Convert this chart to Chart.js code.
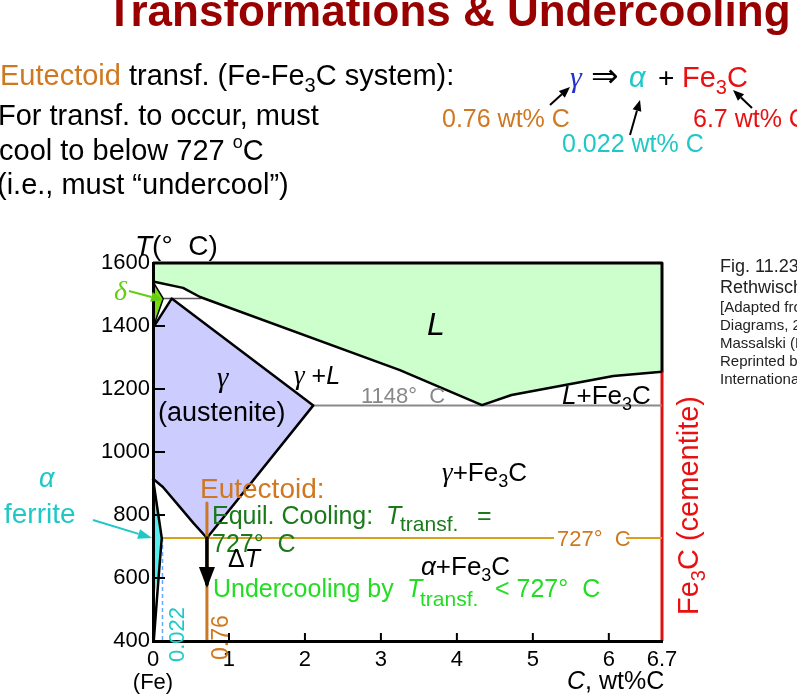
<!DOCTYPE html>
<html><head><meta charset="utf-8">
<script src="https://cdn.jsdelivr.net/npm/chart.js@4.4.0/dist/chart.umd.min.js"></script>
<style>html,body{margin:0;padding:0;background:#fff;overflow:hidden}#wrap{width:797px;height:694px;position:relative}</style>
</head><body><div id="wrap"><canvas id="c" width="797" height="694"></canvas></div>
<script>
// ---------- data ----------
const xTickValues = [0, 1, 2, 3, 4, 5, 6, 6.7];
const xTickLabels = ['0', '1', '2', '3', '4', '5', '6', '6.7'];
const yTickValues = [400, 600, 800, 1000, 1200, 1400, 1600];
const yTickLabels = ['400', '600', '800', '1000', '1200', '1400', '1600'];

const liquidusC = [0, 0.395, 0.62, 3.25, 4.33, 4.72, 6.06, 6.7];
const liquidusT = [1541, 1521, 1492, 1260, 1149, 1181, 1241, 1255];

const deltaC = [0, 0.135, 0];
const deltaT = [1541, 1487, 1394];

const gammaC = [0, 0.246, 2.11, 0.71, 0.53, 0.355, 0.13, 0];
const gammaT = [1394, 1487, 1148, 727, 775, 825, 889, 915];

const alphaBoundC = [0, 0.115, 0.06, 0.01];
const alphaBoundT = [915, 727, 560, 400];
const alphaFillC = [0, 0.041, 0.115, 0.06, 0];
const alphaFillT = [850, 848, 727, 600, 521];

const peritecticC = [0.135, 0.63];
const peritecticT = 1487;
const eutecticC = [2.11, 6.7];
const eutecticT = 1148;
const eutectoidLineC = [0.125, 6.7];
const eutectoidT = 727;
const eutectoidComp = 0.71;
const eutectoidLineT = [838, 400];
const undercoolT = [727, 580];
const undercoolTipT = 568;
const ferriteDashC = 0.125;
const ferriteDashT = [727, 400];
const cementiteC = 6.7;
const cementiteRedT = [400, 1255];
const cementiteBlackT = [1255, 1600];
const xMin = 0, xMax = 6.7, yMin = 400, yMax = 1600;

// ---------- helpers ----------
const SANS = '"Liberation Sans", Arial, "DejaVu Sans", sans-serif';
const SERIF = '"Liberation Serif", "Times New Roman", "DejaVu Serif", serif';
const P = (xs, ys) => xs.map((x, i) => ({x: x, y: ys[i]}));
const close = a => a.concat([a[0]]);

const liquidFill = [{x: 0, y: 1600}, {x: 6.7, y: 1600}].concat(P(liquidusC, liquidusT).reverse(), [{x: 0, y: 1600}]);

function fillSet(data, color) {
  return {data: data, showLine: true, fill: 'shape', backgroundColor: color, borderWidth: 0, borderColor: 'rgba(0,0,0,0)', pointRadius: 0, tension: 0};
}
function lineSet(data, color, w, dash) {
  return {data: data, showLine: true, fill: false, borderColor: color, borderWidth: w, borderDash: dash || [], pointRadius: 0, tension: 0, borderCapStyle: 'butt', borderJoinStyle: 'round', clip: 8};
}

const F = (size, style, fam) => (style || '') + ' ' + size + 'px ' + (fam || SANS);

function runs(ctx, x, y, parts) {
  let cx = x;
  for (const p of parts) {
    if (p.length > 4 && p[4] != null) cx = p[4];
    ctx.font = p[1];
    ctx.fillStyle = p[2];
    ctx.fillText(p[0], cx, y + (p[3] || 0));
    cx += ctx.measureText(p[0]).width;
  }
  return cx;
}
function arrow(ctx, x1, y1, x2, y2, color, w, hl, hw) {
  const a = Math.atan2(y2 - y1, x2 - x1);
  const bx = x2 - hl * Math.cos(a), by = y2 - hl * Math.sin(a);
  ctx.save();
  ctx.strokeStyle = color; ctx.fillStyle = color; ctx.lineWidth = w;
  ctx.beginPath(); ctx.moveTo(x1, y1); ctx.lineTo(bx, by); ctx.stroke();
  ctx.beginPath();
  ctx.moveTo(x2, y2);
  ctx.lineTo(bx + hw / 2 * Math.sin(a), by - hw / 2 * Math.cos(a));
  ctx.lineTo(bx - hw / 2 * Math.sin(a), by + hw / 2 * Math.cos(a));
  ctx.closePath(); ctx.fill();
  ctx.restore();
}

const BLACK = '#000', ORANGE = '#d07820', CYAN = '#1fc8c8', RED = '#e81010', DGREEN = '#1a7a1a', LGREEN = '#22dd22';

const decor = {
  id: 'decor',
  afterDatasetsDraw(chart) {
    const ctx = chart.ctx, xs = chart.scales.x, ys = chart.scales.y, a = chart.chartArea;
    ctx.save();
    ctx.strokeStyle = '#000'; ctx.lineWidth = 2;
    for (const v of yTickValues) {
      if (v === yMin || v === yMax) continue;
      const y = ys.getPixelForValue(v);
      ctx.beginPath(); ctx.moveTo(a.left, y); ctx.lineTo(a.left + 12, y); ctx.stroke();
    }
    for (const v of xTickValues) {
      if (v === xMin || v === xMax) continue;
      const x = xs.getPixelForValue(v);
      ctx.beginPath(); ctx.moveTo(x, a.bottom); ctx.lineTo(x, a.bottom - 8); ctx.stroke();
    }
    // undercooling arrow head
    const ax = xs.getPixelForValue(eutectoidComp), ay = ys.getPixelForValue(undercoolTipT);
    ctx.fillStyle = '#000';
    ctx.beginPath(); ctx.moveTo(ax, ay); ctx.lineTo(ax - 8, ay - 21); ctx.lineTo(ax + 8, ay - 21); ctx.closePath(); ctx.fill();
    ctx.restore();
  },
  afterDraw(chart) {
    const ctx = chart.ctx;
    ctx.save();
    ctx.textBaseline = 'alphabetic'; ctx.textAlign = 'left';
    // title
    runs(ctx, 106, 26, [['Transformations & Undercooling', F(44, 'bold'), '#990000']]);
    // top-left text
    runs(ctx, 0, 85, [['Eutectoid', F(29), ORANGE], [' transf. (Fe-Fe', F(29), BLACK], ['3', F(20), BLACK, 7], ['C system):', F(29), BLACK]]);
    runs(ctx, -2, 125, [['For transf. to occur, must', F(29), BLACK]]);
    runs(ctx, -1, 160, [['cool to below 727 ', F(29), BLACK], ['o', F(18), BLACK, -12], ['C', F(29), BLACK]]);
    runs(ctx, -3, 194, [['(i.e., must \u201cundercool\u201d)', F(29), BLACK]]);
    // top-right equation
    runs(ctx, 570, 87, [['\u03b3', F(30, 'italic', SERIF), '#2233cc']]);
    runs(ctx, 591, 87, [['\u21d2', F(33), BLACK]]);
    runs(ctx, 629, 87, [['\u03b1', F(29, 'italic'), CYAN]]);
    runs(ctx, 658, 87, [['+', F(28), BLACK]]);
    runs(ctx, 682, 87, [['Fe', F(29), RED], ['3', F(20), RED, 7], ['C', F(29), RED]]);
    runs(ctx, 442, 127, [['0.76 wt% C', F(25), ORANGE]]);
    runs(ctx, 693, 127, [['6.7 wt% C', F(25), RED]]);
    runs(ctx, 562, 152, [['0.022 wt% C', F(25), CYAN]]);
    arrow(ctx, 550, 105, 570, 87, BLACK, 2, 11, 9);
    arrow(ctx, 630, 135, 640, 100, BLACK, 2, 11, 9);
    arrow(ctx, 752, 108, 733, 90, BLACK, 2, 11, 9);
    // figure credit (clipped at right edge like the original)
    runs(ctx, 720, 272, [['Fig. 11.23, Callister &', F(18), '#222']]);
    runs(ctx, 720, 293, [['Rethwisch 9e.', F(18), '#222']]);
    const cred = ['[Adapted from Binary Alloy Phase', 'Diagrams, 2nd ed., Vol. 1, T.B.', 'Massalski (Ed.-in-Chief), ASM', 'Reprinted by permission of ASM', 'International, Materials Park, OH.]'];
    cred.forEach((t, i) => runs(ctx, 720, 312 + i * 18, [[t, F(15), '#222']]));
    // axis titles
    runs(ctx, 135, 255, [['T', F(28, 'italic'), BLACK], ['(\u00b0  C)', F(28), BLACK]]);
    ctx.textAlign = 'center';
    runs(ctx, 153, 689, [['(Fe)', F(22), BLACK]]);
    ctx.textAlign = 'left';
    runs(ctx, 567, 689, [['C', F(25, 'italic'), BLACK], [', wt%C', F(25), BLACK]]);
    // region labels
    runs(ctx, 427, 335, [['L', F(32, 'italic'), BLACK]]);
    runs(ctx, 294, 384, [['\u03b3', F(27, 'italic', SERIF), BLACK], [' +', F(25), BLACK], ['L', F(25, 'italic'), BLACK]]);
    runs(ctx, 217, 387, [['\u03b3', F(29, 'italic', SERIF), BLACK]]);
    runs(ctx, 158, 421, [['(austenite)', F(27), BLACK]]);
    runs(ctx, 361, 403, [['1148\u00b0  C', F(22), '#888']]);
    runs(ctx, 562, 404, [['L', F(26, 'italic'), BLACK], ['+Fe', F(26), BLACK], ['3', F(18), BLACK, 6], ['C', F(26), BLACK]]);
    runs(ctx, 442, 481, [['\u03b3', F(27, 'italic', SERIF), BLACK], ['+Fe', F(26), BLACK], ['3', F(18), BLACK, 6], ['C', F(26), BLACK]]);
    runs(ctx, 200, 498, [['Eutectoid:', F(28), ORANGE]]);
    runs(ctx, 212, 524, [['Equil. Cooling: ', F(25), DGREEN], ['T', F(25, 'italic'), DGREEN, 0, 386], ['transf.', F(21), DGREEN, 7, 400], ['=', F(25), DGREEN, 0, 477]]);
    runs(ctx, 212, 552, [['727\u00b0  C', F(25), DGREEN]]);
    runs(ctx, 228, 567, [['\u0394', F(25), BLACK], ['T', F(25, 'italic'), BLACK]]);
    runs(ctx, 421, 575, [['\u03b1', F(26, 'italic'), BLACK], ['+Fe', F(26), BLACK], ['3', F(18), BLACK, 6], ['C', F(26), BLACK]]);
    runs(ctx, 213, 597, [['Undercooling by ', F(25), LGREEN], ['T', F(25, 'italic'), LGREEN, 0, 407], ['transf.', F(21), LGREEN, 9, 420], ['< 727\u00b0  C', F(25), LGREEN, 0, 495]]);
    ctx.fillStyle = '#fff'; ctx.fillRect(554, 529, 72, 17);
    runs(ctx, 557, 546, [['727\u00b0  C', F(22), ORANGE]]);
    // delta / alpha callouts
    runs(ctx, 114, 300, [['\u03b4', F(28, 'italic', SERIF), '#66cc11']]);
    arrow(ctx, 129, 291, 163, 300, '#66cc11', 2, 12, 10);
    runs(ctx, 39, 487, [['\u03b1', F(27, 'italic'), CYAN]]);
    runs(ctx, 4, 523, [['ferrite', F(28), CYAN]]);
    arrow(ctx, 93, 520, 152, 538, CYAN, 2, 14, 10);
    // rotated labels
    ctx.save(); ctx.translate(698, 615); ctx.rotate(-Math.PI / 2);
    runs(ctx, 0, 0, [['Fe', F(29), RED], ['3', F(20), RED, 7], ['C (cementite)', F(29), RED]]);
    ctx.restore();
    ctx.save(); ctx.translate(184, 662); ctx.rotate(-Math.PI / 2);
    runs(ctx, 0, 0, [['0.022', F(22), CYAN]]);
    ctx.restore();
    ctx.save(); ctx.translate(228, 660); ctx.rotate(-Math.PI / 2);
    runs(ctx, 0, 0, [['0.76', F(23), ORANGE]]);
    ctx.restore();
    ctx.restore();
  }
};

Chart.defaults.font.family = SANS;
new Chart(document.getElementById('c'), {
  type: 'scatter',
  data: {
    datasets: [
      lineSet([{x: eutectoidComp, y: undercoolT[0]}, {x: eutectoidComp, y: undercoolT[1]}], '#000', 3.5),
      lineSet([{x: eutectoidComp, y: eutectoidLineT[0]}, {x: eutectoidComp, y: eutectoidLineT[1]}], '#cc7722', 3),
      lineSet(P(liquidusC, liquidusT), '#000', 2.5),
      lineSet(P(gammaC, gammaT), '#000', 2.5),
      lineSet(P(deltaC, deltaT), '#000', 1.5),
      lineSet(P(alphaBoundC, alphaBoundT), '#000', 2.5),
      lineSet(P(peritecticC, [peritecticT, peritecticT]), '#555', 1.5),
      lineSet(P(eutecticC, [eutecticT, eutecticT]), '#8a8a8a', 2),
      lineSet(P(eutectoidLineC, [eutectoidT, eutectoidT]), '#d6a21e', 2),
      lineSet([{x: ferriteDashC, y: ferriteDashT[0]}, {x: ferriteDashC, y: ferriteDashT[1]}], '#66aaff', 1.5, [4, 3]),
      lineSet([{x: cementiteC, y: cementiteRedT[0]}, {x: cementiteC, y: cementiteRedT[1]}], '#dd1111', 3),
      lineSet([{x: 0, y: yMax}, {x: cementiteC, y: cementiteBlackT[1]}, {x: cementiteC, y: cementiteBlackT[0]}], '#000', 3),
      fillSet(close(P(deltaC, deltaT)), '#77dd11'),
      fillSet(close(P(alphaFillC, alphaFillT)), '#55eeee'),
      fillSet(close(P(gammaC, gammaT)), '#ccccff'),
      fillSet(liquidFill, '#ccffcc')
    ]
  },
  options: {
    responsive: false, animation: false, devicePixelRatio: 1,
    layout: {padding: {top: 263, right: 135, left: 0, bottom: 0}},
    plugins: {legend: {display: false}, tooltip: {enabled: false}, title: {display: false}},
    scales: {
      x: {
        type: 'linear', min: xMin, max: xMax,
        afterBuildTicks: s => { s.ticks = xTickValues.map(v => ({value: v})); },
        afterFit: s => { s.height = 53; },
        ticks: {callback: (v, i) => xTickLabels[i], font: {size: 22}, color: '#000', padding: 6, maxRotation: 0, autoSkip: false},
        grid: {display: false, drawTicks: false},
        border: {display: true, color: '#000', width: 3, z: 1}
      },
      y: {
        type: 'linear', min: yMin, max: yMax,
        afterBuildTicks: s => { s.ticks = yTickValues.map(v => ({value: v})); },
        afterFit: s => { s.width = 153; },
        ticks: {callback: (v, i) => yTickLabels[i], font: {size: 22}, color: '#000', padding: 3, autoSkip: false},
        grid: {display: false, drawTicks: false},
        border: {display: true, color: '#000', width: 3, z: 1}
      }
    }
  },
  plugins: [decor]
});
</script></body></html>
